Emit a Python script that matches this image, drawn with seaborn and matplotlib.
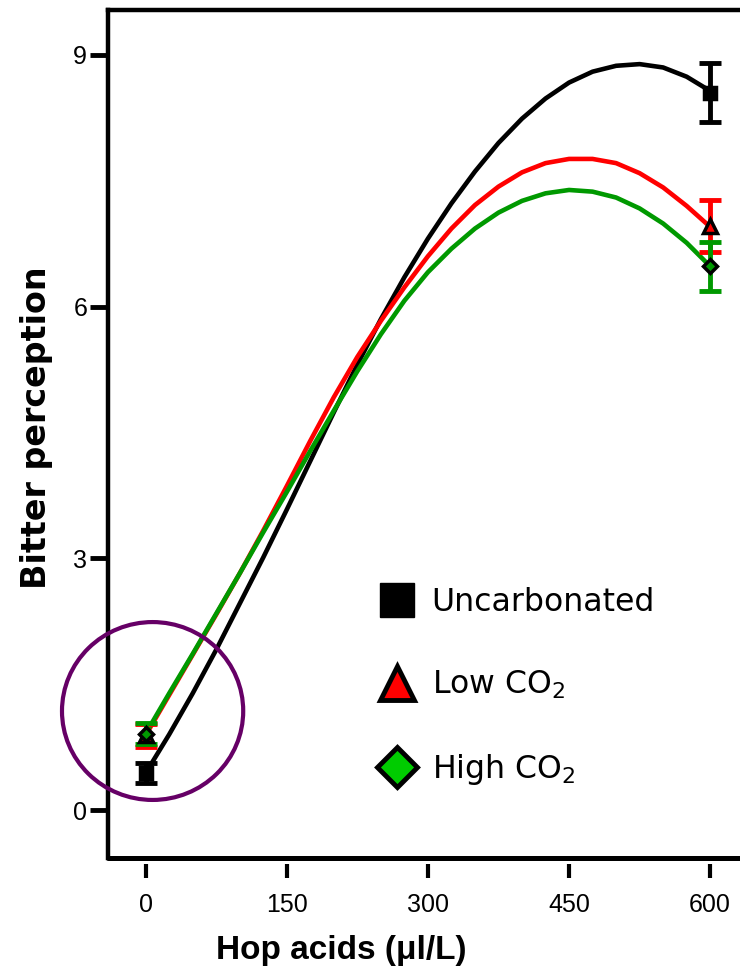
import matplotlib
matplotlib.use("Agg")
import matplotlib.pyplot as plt
import pandas as pd
import seaborn as sns
from matplotlib.patches import Ellipse
from matplotlib.lines import Line2D

# fitted curves, every 25 ul/L
hop = [0, 25, 50, 75, 100, 125, 150, 175, 200, 225, 250, 275, 300,
       325, 350, 375, 400, 425, 450, 475, 500, 525, 550, 575, 600]
uncarb_fit = [0.44, 0.90, 1.39, 1.91, 2.46, 3.01, 3.58, 4.16, 4.74, 5.31, 5.85, 6.35, 6.81,
              7.23, 7.61, 7.95, 8.24, 8.48, 8.67, 8.80, 8.87, 8.89, 8.85, 8.74, 8.57]
low_fit = [0.89, 1.37, 1.85, 2.33, 2.82, 3.33, 3.86, 4.40, 4.92, 5.40, 5.83, 6.23, 6.60,
           6.93, 7.21, 7.43, 7.60, 7.71, 7.76, 7.76, 7.71, 7.59, 7.42, 7.20, 6.95]
high_fit = [0.91, 1.39, 1.86, 2.34, 2.82, 3.31, 3.79, 4.28, 4.76, 5.23, 5.67, 6.07, 6.41,
            6.69, 6.93, 7.12, 7.26, 7.35, 7.39, 7.37, 7.30, 7.17, 6.99, 6.76, 6.48]

# measured means and errors
obs_dose = [0, 600]
uncarb_mean = [0.44, 8.55]
uncarb_err = [0.12, 0.35]
low_mean = [0.89, 6.96]
low_err = [0.135, 0.31]
high_mean = [0.91, 6.48]
high_err = [0.125, 0.29]

groups = ["Uncarbonated", "Low CO$_2$", "High CO$_2$"]
line_colors = ["black", "#ff0000", "#009900"]

sns.set_style("ticks")
plt.rcParams["font.family"] = ["DejaVu Sans"]
plt.rcParams["text.color"] = "black"
plt.rcParams["axes.labelcolor"] = "black"
plt.rcParams["axes.edgecolor"] = "black"

fig = plt.figure(figsize=(7.4, 9.72), dpi=100)
ax = fig.add_axes([108 / 740, 114 / 972, 637 / 740, 848 / 972])

fits = pd.DataFrame({
    "hop": hop * 3,
    "bitter": uncarb_fit + low_fit + high_fit,
    "group": [groups[0]] * len(hop) + [groups[1]] * len(hop) + [groups[2]] * len(hop),
})
sns.lineplot(data=fits, x="hop", y="bitter", hue="group", palette=dict(zip(groups, line_colors)),
             estimator=None, errorbar=None, linewidth=3.3, legend=False, ax=ax, zorder=3)

series = [
    (uncarb_mean, uncarb_err, "s", "black", "black", 9),
    (low_mean, low_err, "^", "#ff0000", "#ff0000", 10),
    (high_mean, high_err, "D", "#009900", "#009900", 7.5),
]
for mean, err, marker, face, ecol, ms in series:
    ax.errorbar(obs_dose, mean, yerr=err, fmt="none", ecolor=ecol, elinewidth=3.5,
                capsize=8, capthick=3.5, zorder=4)
    ax.plot(obs_dose, mean, ls="none", marker=marker, mfc=face, mec="black",
            ms=ms, mew=2.5, zorder=5)

# purple highlight circle round the zero dose
ax.add_patch(Ellipse((7.4, 1.18), width=192.6, height=2.12, fill=False,
                     ec="#660066", lw=3, clip_on=False, zorder=6))

ax.set_xlim(-40, 637)
ax.set_ylim(-0.572, 9.535)
ax.set_xticks([0, 150, 300, 450, 600])
ax.set_yticks([0, 3, 6, 9])

ax.spines["right"].set_visible(False)
for side in ["left", "top"]:
    ax.spines[side].set_linewidth(3.2)
    ax.spines[side].set_color("black")
ax.spines["bottom"].set_position(("outward", 4))
ax.spines["bottom"].set_visible(False)
ax.axhline(-0.572, color="black", lw=3.6, clip_on=False, zorder=2)

ax.tick_params(axis="y", direction="out", length=13, width=3.5, pad=2, labelsize=18, colors="black")
ax.tick_params(axis="x", direction="out", length=10, width=3, pad=11, labelsize=18, colors="black")
for lbl in ax.get_xticklabels() + ax.get_yticklabels():
    lbl.set_fontfamily(["Liberation Sans Narrow", "Liberation Sans"])

ax.set_xlabel("Hop acids (\u03bcl/L)", fontsize=24, fontweight="bold",
              fontfamily=["Liberation Sans", "DejaVu Sans"])
ax.xaxis.set_label_coords(0.366, -0.0908)
ax.set_ylabel("Bitter perception", fontsize=24, fontweight="bold")
ax.yaxis.set_label_coords(-0.0863, 0.508)

handles = [
    Line2D([], [], ls="none", marker="s", ms=25, mfc="black", mec="black"),
    Line2D([], [], ls="none", marker="^", ms=24, mfc="#ff0000", mec="black", mew=3.5),
    Line2D([], [], ls="none", marker="D", ms=20, mfc="#00cc00", mec="black", mew=3.5),
]
ax.legend(handles, groups, loc="upper left", bbox_to_anchor=(0.424, 0.319), frameon=False,
          fontsize=22.7, handlelength=1.2, handletextpad=0.5, labelspacing=1.6,
          borderpad=0, borderaxespad=0)

fig.savefig("out.png", dpi=100)
